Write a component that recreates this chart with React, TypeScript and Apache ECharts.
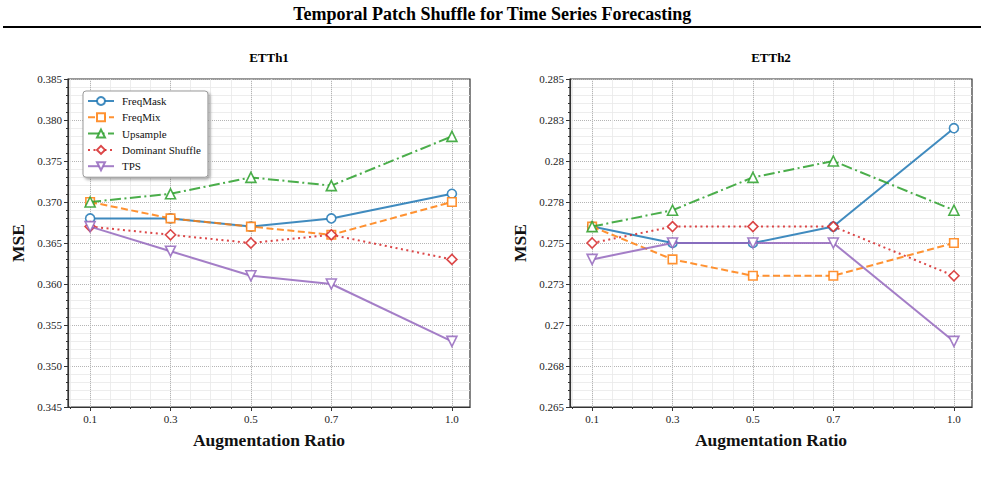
import React, { useEffect, useRef } from "react";
import * as echarts from "echarts";

// Augmentation ratios on the x axis
const ratios = [0.1, 0.3, 0.5, 0.7, 1.0];
const xTickLabels = ["0.1", "0.3", "0.5", "0.7", "1.0"];

const methods = ["FreqMask", "FreqMix", "Upsample", "Dominant Shuffle", "TPS"];

// ETTh1 MSE per method
const etth1FreqMask = [0.368, 0.368, 0.367, 0.368, 0.371];
const etth1FreqMix = [0.370, 0.368, 0.367, 0.366, 0.370];
const etth1Upsample = [0.370, 0.371, 0.373, 0.372, 0.378];
const etth1Dominant = [0.367, 0.366, 0.365, 0.366, 0.363];
const etth1TPS = [0.367, 0.364, 0.361, 0.360, 0.353];

// ETTh2 MSE per method
const etth2FreqMask = [0.276, 0.275, 0.275, 0.276, 0.282];
const etth2FreqMix = [0.276, 0.274, 0.273, 0.273, 0.275];
const etth2Upsample = [0.276, 0.277, 0.279, 0.280, 0.277];
const etth2Dominant = [0.275, 0.276, 0.276, 0.276, 0.273];
const etth2TPS = [0.274, 0.275, 0.275, 0.275, 0.269];

// y tick labels
const etth1YLabels = ["0.345", "0.350", "0.355", "0.360", "0.365", "0.370", "0.375", "0.380", "0.385"];
const etth2YLabels = ["0.265", "0.268", "0.27", "0.273", "0.275", "0.278", "0.28", "0.283", "0.285"];

const FONT = "'Liberation Serif', 'DejaVu Serif', serif";
const colors = [
  "rgba(31,119,180,0.85)",
  "rgba(255,127,14,0.85)",
  "rgba(44,160,44,0.85)",
  "rgba(214,39,40,0.85)",
  "rgba(148,103,189,0.85)",
];
const symbols = ["circle", "rect", "triangle", "diamond", "triangle"];
const symbolRotates = [0, 0, 0, 0, 180];
const lineTypes: any[] = ["solid", [7, 3.5], [11, 3.5, 2, 3.5], [2, 3.5], "solid"];

const minorX = Array.from({ length: 20 }, (_, i) => +(0.05 * (i + 1)).toFixed(2));

export default function App() {
  const ref = useRef<HTMLDivElement>(null);

  useEffect(() => {
    if (!ref.current) return;
    const chart = echarts.init(ref.current, null, { renderer: "svg" });

    const grids = [
      { left: 68, right: 515, top: 79, bottom: 78 },
      { left: 570, right: 13, top: 79, bottom: 78 },
    ].map((g) => ({ ...g, show: true, borderColor: "#333", borderWidth: 1.2, backgroundColor: "transparent" }));

    const xAxes: any[] = [];
    [0, 1].forEach((gi) => {
      xAxes.push({
        type: "value",
        gridIndex: gi,
        position: "bottom",
        min: 0.045,
        max: 1.045,
        axisLine: { show: false },
        axisTick: { show: true, customValues: minorX, length: 2, lineStyle: { color: "#333" } },
        axisLabel: { show: false },
        splitLine: { show: true, lineStyle: { color: "#e8e8e8", width: 0.8 } },
      });
      xAxes.push({
        type: "value",
        gridIndex: gi,
        position: "bottom",
        min: 0.045,
        max: 1.045,
        name: "Augmentation Ratio",
        nameLocation: "middle",
        nameGap: 24,
        nameTextStyle: { fontFamily: FONT, fontWeight: "bold", fontSize: 17.5, color: "#111" },
        axisLine: { show: true, lineStyle: { color: "#333", width: 1.2 } },
        axisTick: { show: true, customValues: ratios, length: 4, lineStyle: { color: "#333" } },
        axisLabel: {
          customValues: ratios,
          fontFamily: FONT,
          fontSize: 11,
          color: "#222",
          margin: 6,
          formatter: (v: number) => {
            const i = ratios.findIndex((r) => Math.abs(r - v) < 1e-6);
            return i >= 0 ? xTickLabels[i] : "";
          },
        },
        splitLine: { show: true, lineStyle: { color: "#b5b5b5", type: "dotted", width: 1 } },
      });
    });

    const yCfg = [
      { min: 0.345, max: 0.385, interval: 0.005, labels: etth1YLabels },
      { min: 0.265, max: 0.285, interval: 0.0025, labels: etth2YLabels },
    ];
    const yAxes = yCfg.map((c, gi) => ({
      type: "value",
      gridIndex: gi,
      position: "left",
      min: c.min,
      max: c.max,
      interval: c.interval,
      name: "MSE",
      nameLocation: "middle",
      nameGap: 41,
      nameTextStyle: { fontFamily: FONT, fontWeight: "bold", fontSize: 17.5, color: "#111" },
      axisLine: { show: true, lineStyle: { color: "#333", width: 1.2 } },
      axisTick: { show: true, length: 4, lineStyle: { color: "#333" } },
      minorTick: { show: true, splitNumber: 5, length: 2, lineStyle: { color: "#333" } },
      minorSplitLine: { show: true, lineStyle: { color: "#e8e8e8", width: 0.8 } },
      splitLine: { show: true, lineStyle: { color: "#b5b5b5", type: "dotted", width: 1 } },
      axisLabel: {
        fontFamily: FONT,
        fontSize: 11,
        color: "#222",
        margin: 6,
        formatter: (v: number) => c.labels[Math.round((v - c.min) / c.interval)] ?? "",
      },
    }));

    const datasets = [
      [etth1FreqMask, etth1FreqMix, etth1Upsample, etth1Dominant, etth1TPS],
      [etth2FreqMask, etth2FreqMix, etth2Upsample, etth2Dominant, etth2TPS],
    ];

    const series: any[] = [];
    datasets.forEach((vals, gi) => {
      vals.forEach((arr, mi) => {
        series.push({
          type: "line",
          name: methods[mi],
          xAxisIndex: gi * 2 + 1,
          yAxisIndex: gi,
          data: ratios.map((r, i) => [r, arr[i]]),
          symbol: symbols[mi],
          symbolRotate: symbolRotates[mi],
          symbolSize: mi === 0 ? 9 : mi === 1 ? 8.5 : 10,
          showAllSymbol: true,
          lineStyle: { color: colors[mi], width: 2, type: lineTypes[mi] },
          itemStyle: { color: "#ffffff", borderColor: colors[mi], borderWidth: 1.6 },
          emphasis: { disabled: true },
          z: 3 + mi,
        });
      });
    });

    chart.setOption({
      animation: false,
      textStyle: { fontFamily: FONT },
      grid: grids,
      xAxis: xAxes,
      yAxis: yAxes,
      legend: {
        data: methods,
        orient: "vertical",
        left: 83,
        top: 91,
        itemWidth: 26,
        itemHeight: 10,
        itemGap: 4.3,
        padding: [4, 7, 5, 4],
        backgroundColor: "#ffffff",
        borderColor: "#999",
        borderWidth: 1,
        borderRadius: 3,
        shadowColor: "rgba(0,0,0,0.35)",
        shadowBlur: 3,
        shadowOffsetX: 2,
        shadowOffsetY: 2,
        textStyle: { fontFamily: FONT, fontSize: 11, color: "#111", lineHeight: 12, padding: [0, 0, 0, 3] },
        selectedMode: false,
      },
      graphic: [
        {
          type: "text",
          left: "center",
          top: 5,
          style: { text: "Temporal Patch Shuffle for Time Series Forecasting", font: `bold 18px ${FONT}`, fill: "#000" },
        },
        {
          type: "line",
          shape: { x1: 3, y1: 27, x2: 981, y2: 27 },
          style: { stroke: "#000", lineWidth: 2.2 },
        },
        {
          type: "text",
          x: 269,
          y: 57,
          style: { text: "ETTh1", font: `bold 13px ${FONT}`, fill: "#000", textAlign: "center", textVerticalAlign: "middle" },
        },
        {
          type: "text",
          x: 771,
          y: 57,
          style: { text: "ETTh2", font: `bold 13px ${FONT}`, fill: "#000", textAlign: "center", textVerticalAlign: "middle" },
        },
      ],
      series,
    });

    return () => chart.dispose();
  }, []);

  return <div ref={ref} style={{ position: "fixed", left: 0, top: 0, width: 985, height: 485, background: "#fff" }} />;
}
